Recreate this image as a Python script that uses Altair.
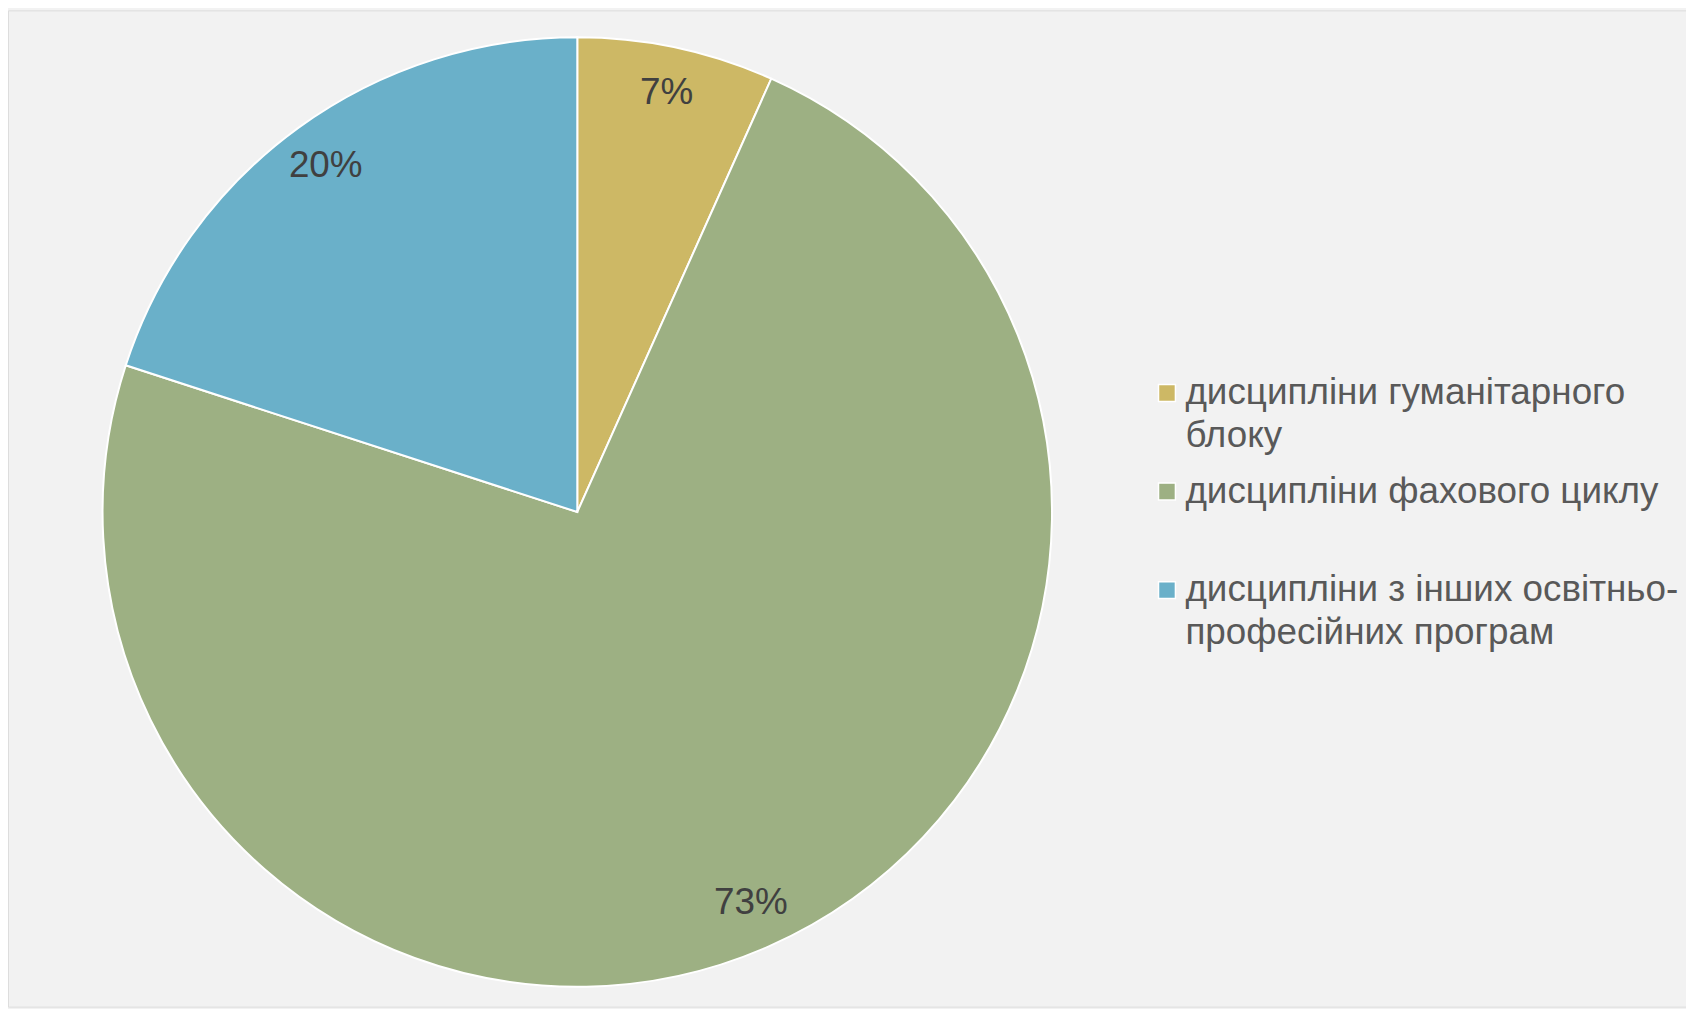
import altair as alt
import pandas as pd

categories = [
    "дисципліни гуманітарного блоку",
    "дисципліни фахового циклу",
    "дисципліни з інших освітньо-професійних програм",
]
values = [6.7, 73.3, 20.0]
labels = ["7%", "73%", "20%"]
legend_lines = [
    ["дисципліни гуманітарного", "блоку"],
    ["дисципліни фахового циклу", ""],
    ["дисципліни з інших освітньо-", "професійних програм"],
]
colors = ["#CDB865", "#9DB083", "#6AB0C9"]

df = pd.DataFrame({
    "category": categories,
    "value": values,
    "label": labels,
    "order": list(range(len(categories))),
})

label_expr = " : ".join(
    f"datum.label == '{c}' ? [{', '.join(repr(s) for s in lines)}]"
    for c, lines in zip(categories, legend_lines)
) + " : datum.label"

CX, CY, R = 572, 504, 477

base = alt.Chart(df).encode(
    theta=alt.Theta("value:Q", stack=True),
    order=alt.Order("order:Q"),
)

pie = base.mark_arc(radius=R, stroke="white", strokeWidth=2).encode(
    x=alt.value(CX),
    y=alt.value(CY),
    color=alt.Color(
        "category:N",
        scale=alt.Scale(domain=categories, range=colors),
        sort=categories,
        legend=alt.Legend(
            title=None,
            orient="none",
            legendX=1146,
            legendY=366,
            symbolType="square",
            symbolSize=289,
            symbolStrokeColor="white",
            symbolStrokeWidth=1.5,
            symbolOpacity=1,
            labelFont="Liberation Sans",
            labelFontSize=37,
            labelColor="#595959",
            labelLimit=0,
            labelOffset=0,
            labelExpr=label_expr,
            rowPadding=18,
            padding=0,
        ),
    ),
)

text = base.mark_text(
    radius=430, font="Liberation Sans", fontSize=37, color="#404040"
).encode(
    x=alt.value(CX),
    y=alt.value(CY),
    text="label:N",
)

chart = (
    alt.layer(pie, text)
    .properties(
        width=1686,
        height=1001,
        autosize=alt.AutoSizeParams(type="none"),
        padding=0,
        background="#f2f2f2",
    )
    .configure_view(stroke=None)
    .configure(style={"guide-label": {"lineHeight": 43}})
)

chart.save("out.html", embed_options={"renderer": "svg", "actions": False})
